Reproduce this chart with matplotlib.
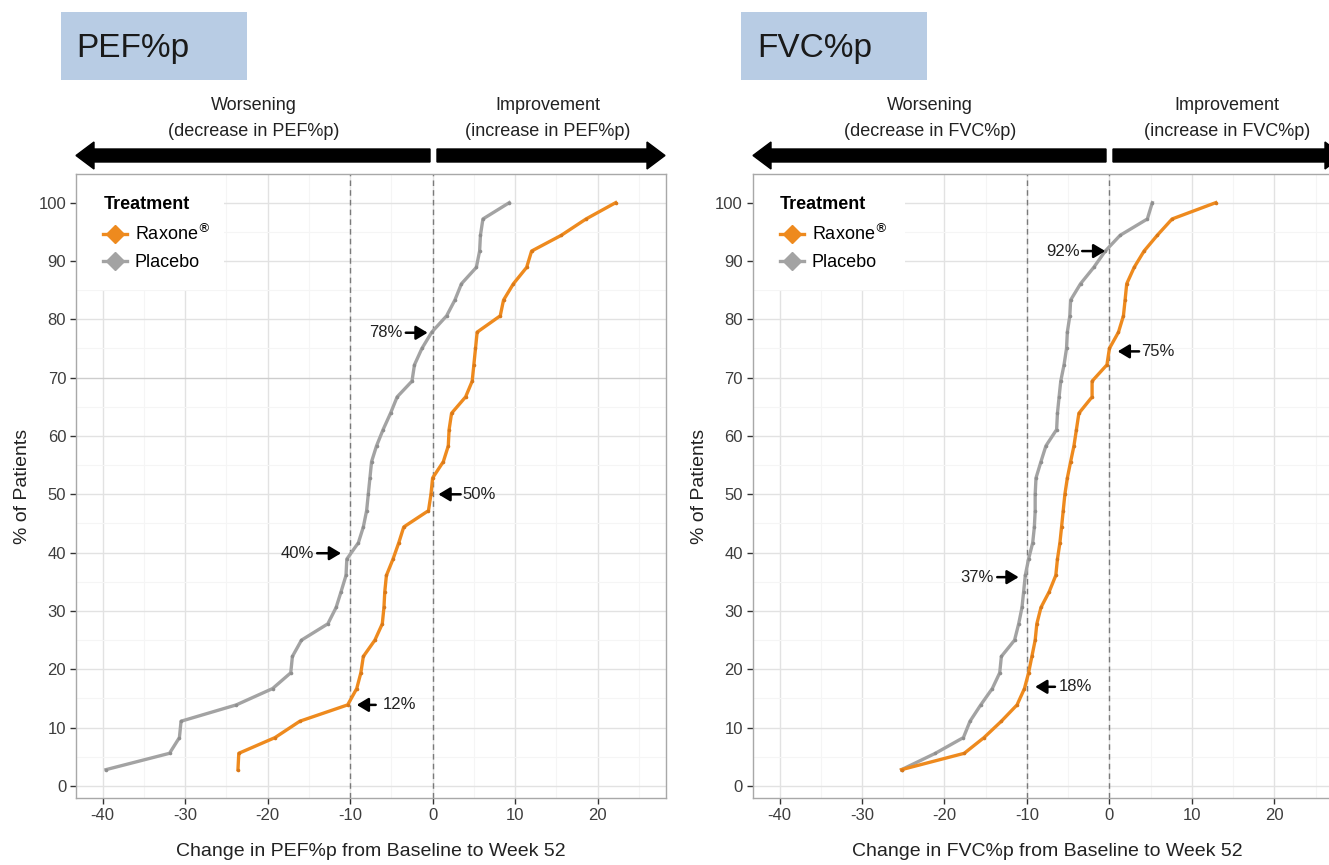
import matplotlib
matplotlib.use("Agg")
import matplotlib.pyplot as plt
from matplotlib.patches import FancyArrow, Rectangle
from matplotlib.lines import Line2D

# ---------------- data ----------------
pct = [2.8, 5.6, 8.3, 11.1, 13.9, 16.7, 19.4, 22.2, 25.0, 27.8, 30.6, 33.3,
       36.1, 38.9, 41.7, 44.4, 47.2, 50.0, 52.8, 55.6, 58.3, 61.1, 63.9, 66.7,
       69.4, 72.2, 75.0, 77.8, 80.6, 83.3, 86.1, 88.9, 91.7, 94.4, 97.2, 100.0]

pef_placebo = [-39.6, -31.9, -30.7, -30.5, -23.8, -19.4, -17.2, -17.0, -15.9, -12.7,
               -11.7, -11.1, -10.5, -10.4, -9.0, -8.4, -8.0, -7.8, -7.6, -7.4,
               -6.8, -6.0, -5.1, -4.3, -2.5, -2.2, -1.3, -0.1, 1.7, 2.7,
               3.5, 5.3, 5.7, 5.8, 6.1, 9.3]
pef_raxone = [-23.6, -23.5, -19.1, -16.1, -10.3, -9.2, -8.7, -8.4, -7.0, -6.1,
              -5.9, -5.8, -5.6, -4.8, -4.1, -3.5, -0.5, -0.2, 0.0, 1.3,
              1.9, 2.0, 2.3, 4.0, 4.8, 5.0, 5.2, 5.4, 8.2, 8.6,
              9.8, 11.4, 12.0, 15.6, 18.6, 22.2]

fvc_placebo = [-25.2, -21.1, -17.7, -16.9, -15.6, -14.2, -13.3, -13.1, -11.5, -11.0,
               -10.6, -10.4, -10.2, -9.8, -9.3, -9.1, -9.0, -9.0, -8.9, -8.3,
               -7.7, -6.4, -6.3, -6.1, -5.9, -5.5, -5.2, -5.1, -4.8, -4.7,
               -3.5, -1.9, -0.5, 1.3, 4.6, 5.2]
fvc_raxone = [-25.2, -17.6, -15.2, -13.1, -11.2, -10.3, -9.8, -9.4, -9.0, -8.8,
              -8.3, -7.3, -6.5, -6.3, -6.0, -5.8, -5.6, -5.4, -5.1, -4.7,
              -4.3, -4.0, -3.7, -2.1, -2.1, -0.3, 0.0, 1.1, 1.7, 1.9,
              2.1, 3.0, 4.2, 5.8, 7.6, 12.9]

x_ticks = [-40, -30, -20, -10, 0, 10, 20]
y_ticks = [0, 10, 20, 30, 40, 50, 60, 70, 80, 90, 100]
ref_lines = [-10, 0]

pef_labels = ["78%", "50%", "40%", "12%"]
fvc_labels = ["92%", "75%", "37%", "18%"]

# ---------------- style ----------------
ORANGE = "#EE8A1E"
GRAY = "#A3A3A3"
plt.rcParams['font.family'] = ['Liberation Sans', 'DejaVu Sans']
plt.rcParams['axes.unicode_minus'] = False

W, H = 1329, 865
fig = plt.figure(figsize=(W / 100, H / 100), dpi=100)
fig.patch.set_facecolor("white")


def px_rect(l, r, t, b):
    return [l / W, (H - b) / H, (r - l) / W, (b - t) / H]


def setup(ax, placebo, raxone, metric, labels, ann_geom, leg_w):
    ax.set_xlim(-43.25, 28.25)
    ax.set_ylim(-2.08, 104.86)
    ax.set_xticks(x_ticks)
    ax.set_yticks(y_ticks)
    ax.set_xticks([-35, -25, -15, -5, 5, 15, 25], minor=True)
    ax.set_yticks([5, 15, 25, 35, 45, 55, 65, 75, 85, 95], minor=True)
    ax.grid(which='major', color='#e2e2e2', lw=1.0)
    ax.grid(which='minor', color='#f5f5f5', lw=0.8)
    ax.set_axisbelow(True)
    for s in ax.spines.values():
        s.set_color('#a8a8a8')
        s.set_linewidth(1.0)
    ax.tick_params(which='major', length=4, width=1, color='#333333',
                   labelsize=12, labelcolor='#3d3d3d', pad=3)
    ax.tick_params(which='minor', length=0)
    for v in ref_lines:
        ax.axvline(v, ls=(0, (4, 3)), color='#7a7a7a', lw=1.0, zorder=1.6)
    ax.plot(placebo, pct, color=GRAY, lw=2.4, marker='o', ms=2.6,
            mfc='#8f8f8f', mec='none', zorder=3, solid_joinstyle='round')
    ax.plot(raxone, pct, color=ORANGE, lw=2.4, marker='o', ms=2.6,
            mfc='#d9791a', mec='none', zorder=3, solid_joinstyle='round')
    ax.set_xlabel(f"Change in {metric} from Baseline to Week 52", fontsize=14,
                  color='#222222')
    ax.xaxis.set_label_coords(0.5, -0.086)
    ax.xaxis.label.set_va('center')
    ax.set_ylabel("% of Patients", fontsize=14, color='#222222')
    ax.yaxis.set_label_coords(-0.09, 0.5)
    ax.yaxis.label.set_va('center')

    # white legend backdrop
    ax.add_patch(Rectangle((0, 0.8145), leg_w, 0.1855, transform=ax.transAxes,
                           facecolor='white', edgecolor='none', zorder=1.5))
    h1 = Line2D([], [], color=ORANGE, lw=2.4, marker='D', ms=9)
    h2 = Line2D([], [], color=GRAY, lw=2.4, marker='D', ms=9)
    leg = ax.legend([h1, h2], ['Raxone$^{\u00ae}$', 'Placebo'], title='Treatment',
                    loc='upper left', bbox_to_anchor=(0.025, 0.985),
                    frameon=False, fontsize=13,
                    title_fontproperties={'weight': 'bold', 'size': 13},
                    alignment='left', handlelength=1.3, handletextpad=0.45,
                    labelspacing=0.55, borderpad=0.2)
    leg.set_zorder(5)

    for lab, (y, side, a0, a1, tx) in zip(labels, ann_geom):
        ax.annotate('', xy=(a1, y), xytext=(a0, y),
                    arrowprops=dict(arrowstyle='-|>,head_length=0.7,head_width=0.42',
                                    color='black', lw=1.8, shrinkA=0, shrinkB=0),
                    zorder=4)
        ax.text(tx, y, lab, ha=side, va='center', fontsize=12, color='#222222',
                zorder=4)


ax1 = fig.add_axes(px_rect(75.9, 665.6, 174.3, 798.1))
ax2 = fig.add_axes(px_rect(752.7, 1342.4, 174.3, 798.1))

pef_geom = [(77.7, 'right', -3.25, -0.6, -3.6),
            (50.0, 'left', 3.4, 0.7, 3.6),
            (39.9, 'right', -14.0, -11.1, -14.4),
            (13.9, 'left', -6.9, -9.2, -6.1)]
fvc_geom = [(91.7, 'right', -3.3, -0.5, -3.6),
            (74.5, 'left', 3.6, 1.0, 3.9),
            (35.8, 'right', -13.6, -11.0, -14.0),
            (17.0, 'left', -6.6, -9.0, -6.1)]

setup(ax1, pef_placebo, pef_raxone, "PEF%p", pef_labels, pef_geom, 0.251)
setup(ax2, fvc_placebo, fvc_raxone, "FVC%p", fvc_labels, fvc_geom, 0.258)

# darker 70 line in left panel, as in the reference
ax1.get_ygridlines()[7].set_color('#cdcdcd')


def add_arrow(x_tail, x_tip):
    y = (H - 155.5) / 100
    fig.add_artist(FancyArrow(x_tail / 100, y, (x_tip - x_tail) / 100, 0,
                              width=0.13, head_width=0.27, head_length=0.18,
                              length_includes_head=True, color='black',
                              transform=fig.dpi_scale_trans))


add_arrow(430, 76)
add_arrow(437, 665)
add_arrow(1106, 753)
add_arrow(1113, 1343)


def ftext(xpx, ypx, s, **kw):
    fig.text(xpx / W, (H - ypx) / H, s, **kw)


for cx_w, cx_i, m in [(254, 548, "PEF%p"), (930, 1227, "FVC%p")]:
    ftext(cx_w, 106, "Worsening", ha='center', va='center', fontsize=13, color='#222222')
    ftext(cx_w, 132, f"(decrease in {m})", ha='center', va='center', fontsize=13, color='#222222')
    ftext(cx_i, 106, "Improvement", ha='center', va='center', fontsize=13, color='#222222')
    ftext(cx_i, 132, f"(increase in {m})", ha='center', va='center', fontsize=13, color='#222222')

for bx, tx, m in [(61, 76, "PEF%p"), (741, 757, "FVC%p")]:
    fig.add_artist(Rectangle((bx / W, (H - 80) / H), 186 / W, 68 / H,
                             transform=fig.transFigure, facecolor='#b8cce4',
                             edgecolor='none'))
    ftext(tx, 57, m, ha='left', va='baseline', fontsize=24, color='#1a1a1a')

fig.savefig("out.png", dpi=100)
